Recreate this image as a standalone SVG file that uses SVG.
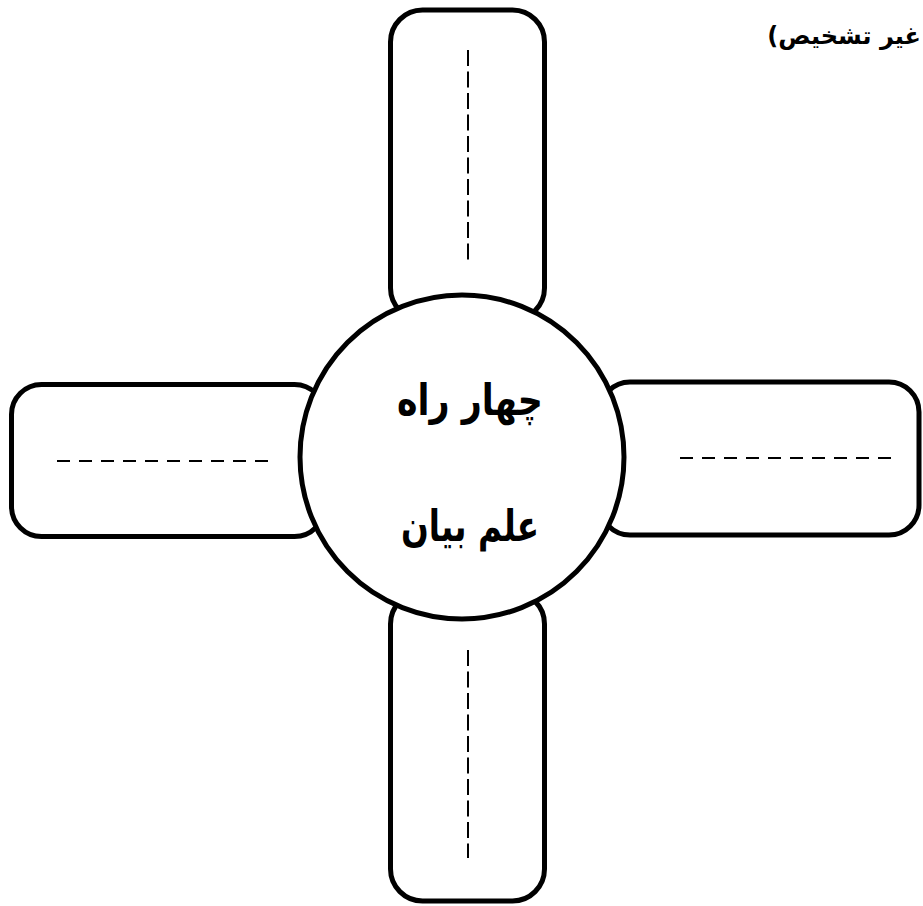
<svg xmlns="http://www.w3.org/2000/svg" width="923" height="906" viewBox="0 0 923 906">
<style>
.arm{fill:#fff;stroke:#000;stroke-width:5}
.hub{fill:#fff;stroke:#000;stroke-width:5}
.dv{stroke:#000;stroke-width:2;stroke-dasharray:16 5.5;fill:none}
.dh{stroke:#000;stroke-width:2;stroke-dasharray:13 9;fill:none}
.big{font-family:"DejaVu Sans",sans-serif;font-weight:bold;font-size:43px;fill:#000}
.note{font-family:"DejaVu Sans",sans-serif;font-weight:bold;font-size:24px;fill:#000}
</style>
<rect width="923" height="906" fill="#fff"/>
<g id="arm-top"><rect class="arm" x="390.5" y="10" width="154" height="310" rx="32"/><line class="dv" x1="468" y1="50" x2="468" y2="260"/></g>
<g id="arm-bottom"><rect class="arm" x="390.5" y="592" width="154" height="309" rx="32"/><line class="dv" x1="468" y1="650" x2="468" y2="858"/></g>
<g id="arm-left"><rect class="arm" x="11.5" y="384.5" width="313" height="152" rx="30"/><line class="dh" x1="57" y1="461" x2="268" y2="461"/></g>
<g id="arm-right"><rect class="arm" x="600" y="382" width="319" height="153" rx="30"/><line class="dh" x1="680" y1="458" x2="892" y2="458"/></g>
<g id="hub"><circle class="hub" cx="462" cy="457" r="162"/>
<text class="big" x="470" y="415" text-anchor="middle" direction="rtl" textLength="146" lengthAdjust="spacingAndGlyphs">چهار راه</text>
<text class="big" x="470" y="541" text-anchor="middle" direction="rtl" textLength="138" lengthAdjust="spacingAndGlyphs">علم بیان</text></g>
<g id="connectors"/>
<g id="note"><text class="note" x="921" y="44" direction="rtl" text-anchor="start">غیر تشخیص)</text></g>
</svg>
